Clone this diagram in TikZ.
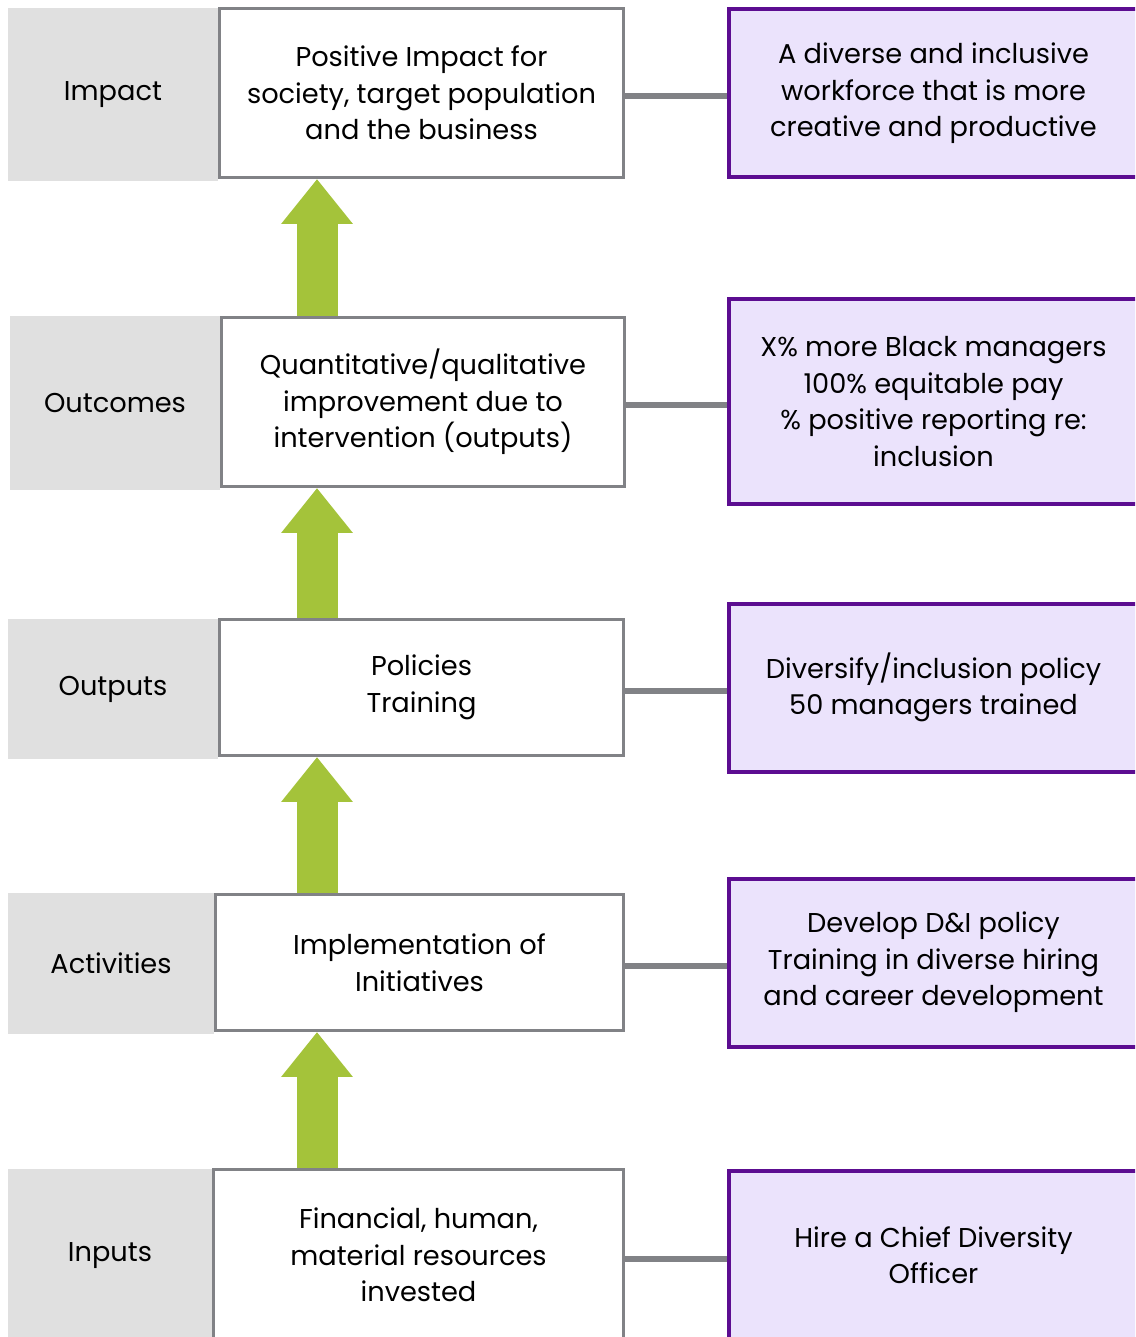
\documentclass[tikz,border=0pt]{standalone}
\usepackage{fontspec}
\setmainfont{Poppins}
\usetikzlibrary{arrows.meta}
\definecolor{labelgrey}{HTML}{E0E0E0}
\definecolor{boxgrey}{HTML}{818286}
\definecolor{arrowgreen}{HTML}{A4C33A}
\definecolor{examplefill}{HTML}{EBE3FC}
\definecolor{exampleline}{HTML}{5C0D91}
\newcommand{\px}{0.02cm}
\tikzset{
  every node/.style={font=\fontsize{15.5}{20.8}\selectfont, align=center, inner sep=0pt},
  stagelabel/.style={fill=labelgrey},
  stagebox/.style={draw=boxgrey, fill=white, line width=3*\px},
  examplebox/.style={draw=exampleline, fill=examplefill, line width=4*\px},
  connector/.style={draw=boxgrey, line width=6*\px},
  uparrow/.style={draw=arrowgreen, line width=41*\px, -{Triangle[width=39pt, length=25.5pt]}}
}

\begin{document}
\begin{tikzpicture}[x=\px, y=-\px]
			\useasboundingbox (0,0) rectangle (1135,1337);
			\clip (0,0) rectangle (1135,1337);
			\coordinate (axis) at (317,0);
			% stage names
			\node[stagelabel, minimum width=210*\px, minimum height=173*\px] (implab) at (113,94.5) {Impact};
			\node[stagelabel, minimum width=210*\px, minimum height=174*\px] (outclab) at (115,403) {Outcomes};
			\node[stagelabel, minimum width=210*\px, minimum height=140*\px] (outplab) at (113,689) {Outputs};
			\node[stagelabel, minimum width=206*\px, minimum height=141*\px] (actlab) at (111,963.5) {Activities};
			\node[stagelabel, minimum width=204*\px, minimum height=174*\px] (inlab) at (110,1256) {Inputs};
			% stage boxes
			\node[stagebox, minimum width=404*\px, minimum height=169*\px] (impbox) at (421.5,93) {Positive Impact for\\society, target population\\and the business};
			\node[stagebox, minimum width=403*\px, minimum height=169*\px] (outcbox) at (423,402) {Quantitative/qualitative\\improvement due to\\intervention (outputs)};
			\node[stagebox, minimum width=404*\px, minimum height=136*\px] (outpbox) at (421.5,687.5) {Policies\\Training};
			\node[stagebox, minimum width=408*\px, minimum height=136*\px] (actbox) at (419.5,962.5) {Implementation of\\Initiatives};
			\node[stagebox, minimum width=410*\px, minimum height=171*\px] (inbox) at (418.5,1255) {Financial, human,\\material resources\\invested};
			% examples
			\node[examplebox, minimum width=410*\px, minimum height=168*\px] (impex) at (933.5,93.5) {A diverse and inclusive\\workforce that is more\\creative and productive};
			\node[examplebox, minimum width=410*\px, minimum height=204*\px] (outcex) at (933.5,401.5) {X\% more Black managers\\100\% equitable pay\\\% positive reporting re:\\inclusion};
			\node[examplebox, minimum width=410*\px, minimum height=168*\px] (outpex) at (933.5,687.5) {Diversify/inclusion policy\\50 managers trained};
			\node[examplebox, minimum width=410*\px, minimum height=168*\px] (actex) at (933.5,962.5) {Develop D\&I policy\\Training in diverse hiring\\and career development};
			\node[examplebox, minimum width=410*\px, minimum height=169*\px] (inex) at (933.5,1255) {Hire a Chief Diversity\\Officer};
			% links to examples
			\foreach \s in {imp,outc,outp,act,in}
				\draw[connector] ([yshift=-3.5*\px]\s box.east) -- ([yshift=-3.5*\px]\s box.east -| \s ex.west);
			% green arrows
			\draw[uparrow] (outcbox.north -| axis) -- (impbox.south -| axis);
			\draw[uparrow] (outpbox.north -| axis) -- (outcbox.south -| axis);
			\draw[uparrow] (actbox.north -| axis) -- (outpbox.south -| axis);
			\draw[uparrow] (inbox.north -| axis) -- (actbox.south -| axis);
		\end{tikzpicture}
\end{document}
